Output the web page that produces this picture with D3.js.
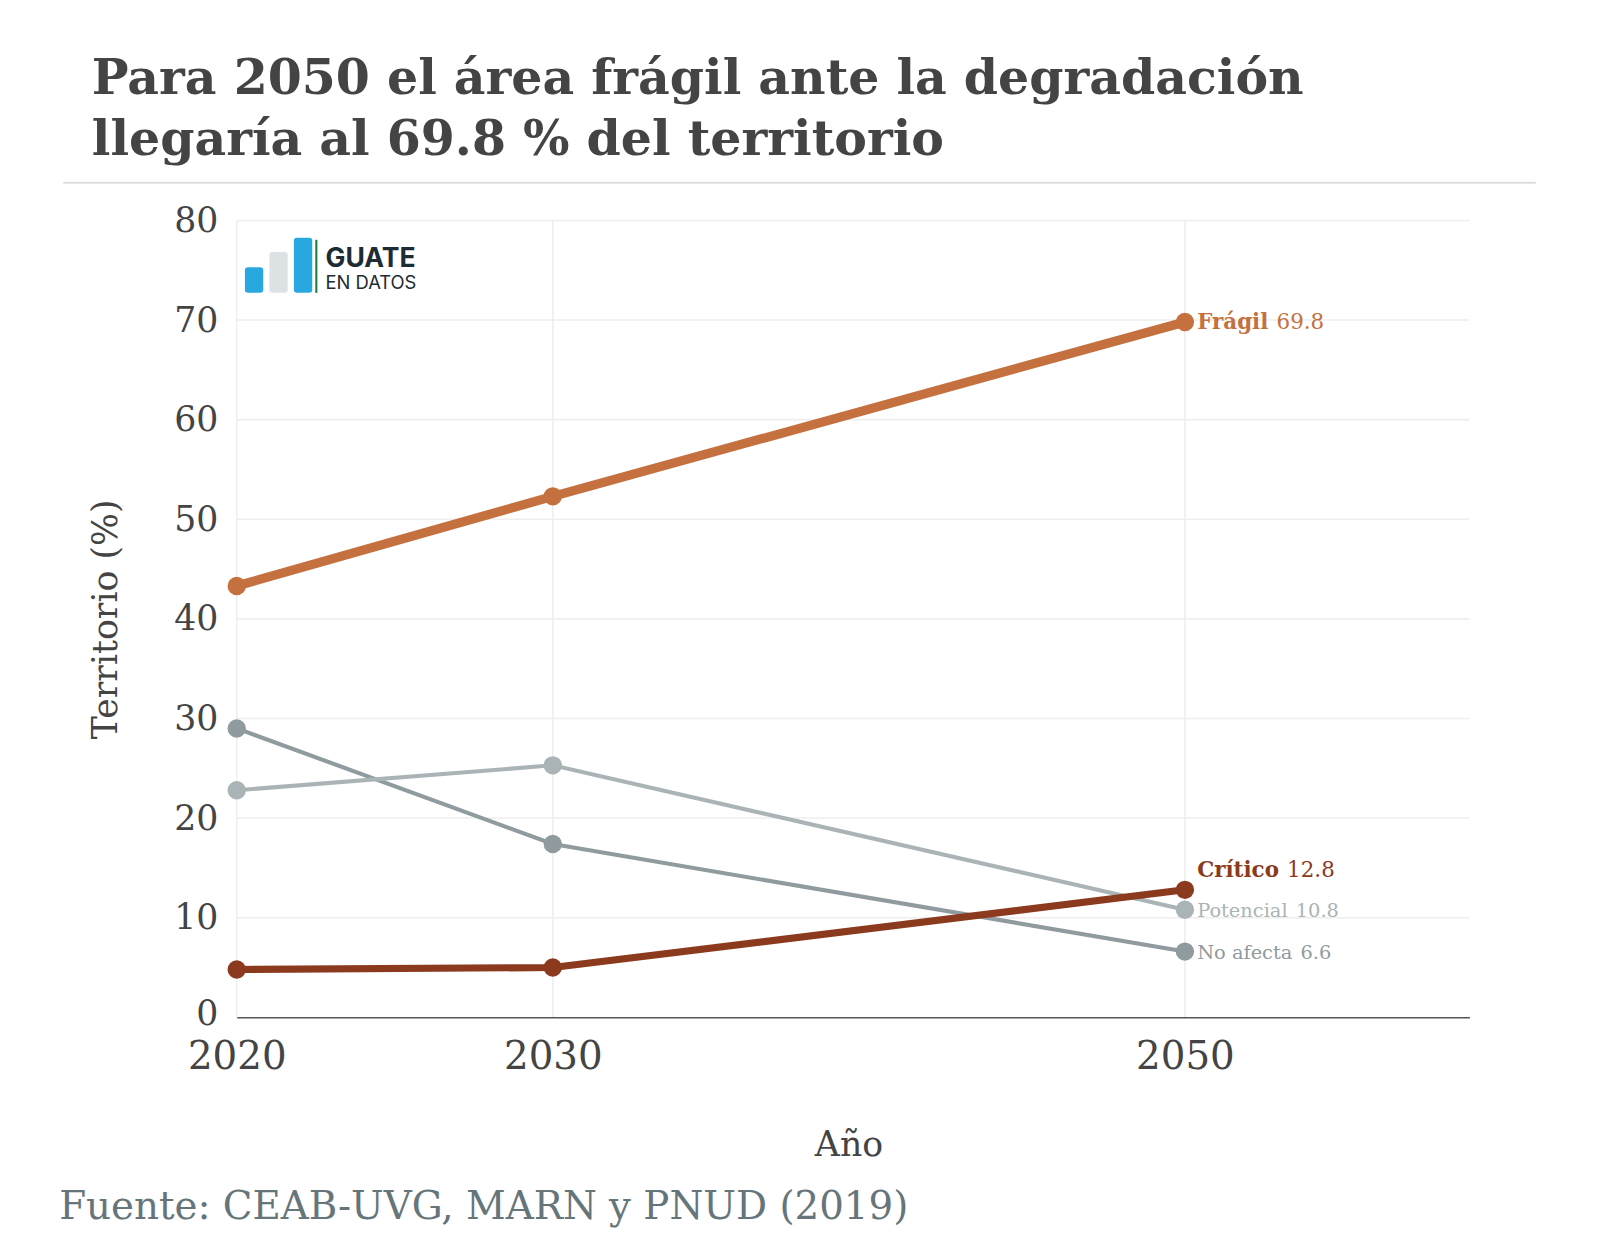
<!DOCTYPE html>
<html><head><meta charset="utf-8">
<script src="https://cdn.jsdelivr.net/npm/d3@7"></script>
<style>body{margin:0;background:#fff}svg{font-family:"DejaVu Serif",serif}</style>
</head><body><svg id="c" width="1600" height="1244"></svg>
<script>
const years = [2020, 2030, 2050];
const seriesNames = ['No afecta', 'Potencial', 'Crítico', 'Frágil'];
const noAfecta = [29.0, 17.4, 6.6];
const potencial = [22.8, 25.3, 10.8];
const critico = [4.8, 5.0, 12.8];
const fragil = [43.3, 52.3, 69.8];
const yTicks = [0, 10, 20, 30, 40, 50, 60, 70, 80];

const styles = {
  'No afecta': { color: '#8f9b9e', w: 4, bold: false, dy: 0 },
  'Potencial': { color: '#aab4b7', w: 4, bold: false, dy: 0 },
  'Crítico': { color: '#8b3a1e', w: 7, bold: true, dy: -20 },
  'Frágil': { color: '#c4703f', w: 9, bold: true, dy: 0 }
};
const values = { 'No afecta': noAfecta, 'Potencial': potencial, 'Crítico': critico, 'Frágil': fragil };

// layout was measured on a 0.98-scaled view of the reference
const svg = d3.select('#c').append('g').attr('transform', 'scale(1.0204)');
const x = d3.scaleLinear().domain([2020, 2059]).range([232, 1440]);
const y = d3.scaleLinear().domain([0, 80]).range([997, 216]);

svg.append('text').attr('x', 90).attr('y', 92).attr('font-size', 48).attr('font-weight', 'bold').attr('fill', '#444')
  .text('Para 2050 el área frágil ante la degradación');
svg.append('text').attr('x', 90).attr('y', 152).attr('font-size', 48).attr('font-weight', 'bold').attr('fill', '#444')
  .text('llegaría al 69.8 % del territorio');
svg.append('line').attr('x1', 62).attr('x2', 1505).attr('y1', 179).attr('y2', 179).attr('stroke', '#ddd').attr('stroke-width', 2);

// grid
svg.append('g').selectAll('line').data(yTicks.slice(1)).join('line')
  .attr('x1', 232).attr('x2', 1440).attr('y1', d => y(d)).attr('y2', d => y(d)).attr('stroke', '#eee').attr('stroke-width', 1.5);
svg.append('g').selectAll('line').data(years).join('line')
  .attr('x1', d => x(d)).attr('x2', d => x(d)).attr('y1', 216).attr('y2', 997).attr('stroke', '#eee').attr('stroke-width', 1.5);

const yAxis = svg.append('g').attr('transform', 'translate(232,0)')
  .call(d3.axisLeft(y).tickValues(yTicks).tickSize(0).tickPadding(18))
  .attr('font-family', null);
yAxis.select('.domain').remove();
yAxis.selectAll('text').attr('font-size', 34).attr('fill', '#444');
yAxis.selectAll('.tick').filter(d => d === 0).select('text').attr('dy', '0.2em');

const xAxis = svg.append('g').attr('transform', 'translate(0,997)')
  .call(d3.axisBottom(x).tickValues(years).tickFormat(d3.format('d')).tickSize(0).tickPadding(24))
  .attr('font-family', null);
xAxis.select('.domain').attr('stroke', '#555').attr('stroke-width', 1.5);
xAxis.selectAll('text').attr('font-size', 38).attr('fill', '#444');

svg.append('text').attr('transform', 'translate(115,607) rotate(-90)').attr('text-anchor', 'middle')
  .attr('font-size', 34).attr('fill', '#444').text('Territorio (%)');
svg.append('text').attr('x', 832).attr('y', 1133).attr('text-anchor', 'middle')
  .attr('font-size', 34).attr('fill', '#444').text('Año');
svg.append('text').attr('x', 58).attr('y', 1195).attr('font-size', 38).attr('fill', '#66757a')
  .text('Fuente: CEAB-UVG, MARN y PNUD (2019)');

// logo
const logo = svg.append('g');
logo.append('rect').attr('x', 240).attr('y', 262).attr('width', 18).attr('height', 25).attr('rx', 3).attr('fill', '#29a8e0');
logo.append('rect').attr('x', 264).attr('y', 247).attr('width', 18).attr('height', 40).attr('rx', 3).attr('fill', '#dde3e5');
logo.append('rect').attr('x', 288).attr('y', 233).attr('width', 18).attr('height', 54).attr('rx', 3).attr('fill', '#29a8e0');
logo.append('line').attr('x1', 310).attr('x2', 310).attr('y1', 235).attr('y2', 287).attr('stroke', '#1a7a3a').attr('stroke-width', 2);
logo.append('text').attr('x', 319).attr('y', 262).style('font-family', 'Inter,sans-serif').attr('font-weight', 'bold')
  .attr('font-size', 26).attr('fill', '#1d2b33').text('GUATE');
logo.append('text').attr('x', 319).attr('y', 283).style('font-family', 'Inter,sans-serif')
  .attr('font-size', 18).attr('fill', '#1d2b33').text('EN DATOS');

const line = d3.line().x((d, i) => x(years[i])).y(d => y(d));
seriesNames.forEach(name => {
  const s = styles[name], v = values[name];
  const g = svg.append('g');
  g.append('path').datum(v).attr('d', line).attr('fill', 'none').attr('stroke', s.color).attr('stroke-width', s.w);
  g.selectAll('circle').data(v).join('circle')
    .attr('cx', (d, i) => x(years[i])).attr('cy', d => y(d)).attr('r', 9).attr('fill', s.color);
  const last = v[v.length - 1];
  const t = g.append('text').attr('x', x(2050) + 12).attr('y', y(last) + s.dy + 7)
    .attr('font-size', s.bold ? 21 : 19).attr('fill', s.color);
  t.append('tspan').attr('font-weight', s.bold ? 'bold' : 'normal').text(name);
  t.append('tspan').attr('dx', 8).text(last.toFixed(1));
});
</script></body></html>
